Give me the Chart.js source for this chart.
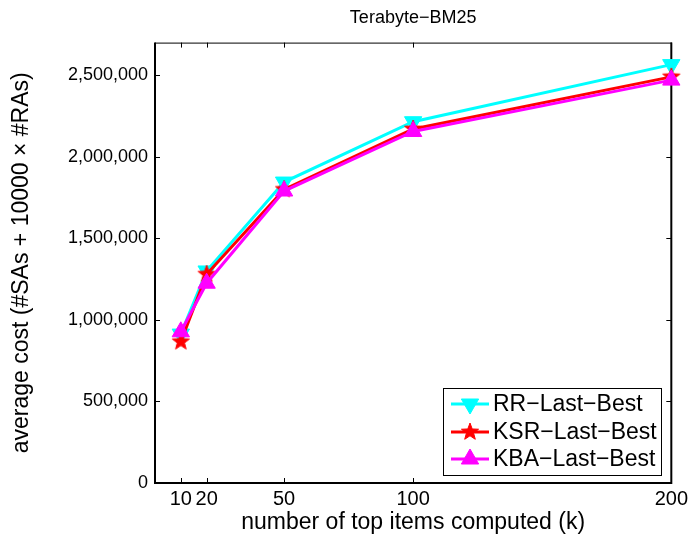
<!DOCTYPE html>
<html>
<head>
<meta charset="utf-8">
<script src="https://cdn.jsdelivr.net/npm/chart.js@4.4.1/dist/chart.umd.min.js"></script>
<style>
  html, body { margin: 0; padding: 0; background: #ffffff; }
  #wrap { width: 692px; height: 539px; }
</style>
</head>
<body>
<div id="wrap"><canvas id="c" width="692" height="539"></canvas></div>
<script>
// number of top items computed (k)
const kValues = [10, 20, 50, 100, 200];
// average cost per method
const rrLastBest  = [913000, 1300000, 1845000, 2215000, 2565000];
const ksrLastBest = [866000, 1280000, 1800000, 2170000, 2490000];
const kbaLastBest = [927000, 1225000, 1790000, 2155000, 2470000];
// tick values
const xTickValues = [10, 20, 50, 100, 200];
const yTickValues = [0, 500000, 1000000, 1500000, 2000000, 2500000];
const seriesNames = ['RR\u2212Last\u2212Best', 'KSR\u2212Last\u2212Best', 'KBA\u2212Last\u2212Best'];

const FONT = 'Liberation Sans, Arial, Helvetica, sans-serif';

// filled five-point star marker
function makeStar(color, outer) {
  const size = Math.ceil(outer * 2 + 2);
  const cv = document.createElement('canvas');
  cv.width = size; cv.height = size;
  const g = cv.getContext('2d');
  const cx = size / 2, cy = size / 2, inner = outer * 0.42;
  g.beginPath();
  for (let i = 0; i < 10; i++) {
    const r = i % 2 === 0 ? outer : inner;
    const a = -Math.PI / 2 + i * Math.PI / 5;
    const px = cx + r * Math.cos(a), py = cy + r * Math.sin(a);
    if (i === 0) g.moveTo(px, py); else g.lineTo(px, py);
  }
  g.closePath();
  g.fillStyle = color; g.fill();
  g.strokeStyle = color; g.lineWidth = 1; g.stroke();
  return cv;
}
const starRed = makeStar('#ff0000', 9);

function toPoints(values) {
  return kValues.map((k, i) => ({ x: k, y: values[i] }));
}

const seriesStyles = [
  { color: '#00ffff', pointStyle: 'triangle', rotation: 180, radius: 10 },
  { color: '#ff0000', pointStyle: starRed, rotation: 0, radius: 9 },
  { color: '#ff00ff', pointStyle: 'triangle', rotation: 0, radius: 10 }
];
const seriesValues = [rrLastBest, ksrLastBest, kbaLastBest];
const drawOrder = [2, 1, 0];

const datasets = seriesValues.map((vals, i) => ({
  label: seriesNames[i],
  data: toPoints(vals),
  borderColor: seriesStyles[i].color,
  backgroundColor: seriesStyles[i].color,
  borderWidth: 3,
  pointStyle: seriesStyles[i].pointStyle,
  pointRotation: seriesStyles[i].rotation,
  pointRadius: seriesStyles[i].radius,
  pointHoverRadius: seriesStyles[i].radius,
  pointBorderWidth: 1,
  pointBackgroundColor: seriesStyles[i].color,
  pointBorderColor: seriesStyles[i].color,
  tension: 0,
  fill: false,
  clip: false,
  order: drawOrder[i]
}));

// axes box with inward tick marks
const boxPlugin = {
  id: 'boxTicks',
  beforeDatasetsDraw(chart) {
    const { ctx, chartArea: a, scales } = chart;
    ctx.save();
    ctx.strokeStyle = '#000000';
    ctx.lineCap = 'butt';
    const tl = 5;
    ctx.lineWidth = 1;
    ctx.beginPath();
    xTickValues.forEach(v => {
      const px = Math.round(scales.x.getPixelForValue(v)) + 0.5;
      ctx.moveTo(px, a.bottom); ctx.lineTo(px, a.bottom - tl);
      ctx.moveTo(px, a.top); ctx.lineTo(px, a.top + tl);
    });
    yTickValues.forEach(v => {
      const py = Math.round(scales.y.getPixelForValue(v)) + 0.5;
      ctx.moveTo(a.left, py); ctx.lineTo(a.left + tl, py);
      ctx.moveTo(a.right, py); ctx.lineTo(a.right - tl, py);
    });
    ctx.stroke();
    ctx.lineWidth = 1;
    ctx.beginPath();
    ctx.moveTo(a.left, a.top + 0.5); ctx.lineTo(a.right, a.top + 0.5);
    ctx.stroke();
    ctx.lineWidth = 2;
    ctx.beginPath();
    ctx.moveTo(a.left, a.top); ctx.lineTo(a.left, a.bottom);
    ctx.lineTo(a.right, a.bottom); ctx.lineTo(a.right, a.top);
    ctx.stroke();
    ctx.restore();
  }
};

// boxed legend in the lower right corner
const legendPlugin = {
  id: 'boxLegend',
  afterDraw(chart) {
    const { ctx } = chart;
    const bx = 443, by = 388, bw = 218, bh = 87;
    const rowY = [404, 432, 459];
    ctx.save();
    ctx.fillStyle = '#ffffff';
    ctx.fillRect(bx, by, bw, bh);
    ctx.strokeStyle = '#000000';
    ctx.lineWidth = 1;
    ctx.strokeRect(bx + 0.5, by + 0.5, bw, bh);
    chart.data.datasets.forEach((ds, i) => {
      const y = rowY[i];
      ctx.strokeStyle = ds.borderColor;
      ctx.lineWidth = 3;
      ctx.beginPath();
      ctx.moveTo(451, y); ctx.lineTo(489, y);
      ctx.stroke();
      ctx.fillStyle = ds.pointBackgroundColor;
      ctx.strokeStyle = ds.pointBorderColor;
      ctx.lineWidth = 1;
      Chart.helpers.drawPoint(ctx, {
        pointStyle: ds.pointStyle,
        rotation: ds.pointRotation,
        radius: ds.pointRadius,
        borderWidth: 1
      }, 470, y);
      ctx.fillStyle = '#000000';
      ctx.font = '23px ' + FONT;
      ctx.textAlign = 'left';
      ctx.textBaseline = 'middle';
      ctx.fillText(ds.label, 493, y + 1);
    });
    ctx.restore();
  }
};

new Chart(document.getElementById('c'), {
  type: 'line',
  data: { datasets },
  plugins: [boxPlugin, legendPlugin],
  options: {
    responsive: false,
    animation: false,
    devicePixelRatio: 1,
    events: [],
    layout: { padding: { left: 0, right: 20, top: 0, bottom: 0 } },
    plugins: {
      legend: { display: false },
      tooltip: { enabled: false },
      title: {
        display: true,
        fullSize: false,
        text: 'Terabyte\u2212BM25',
        color: '#000000',
        font: { family: FONT, size: 18, weight: 'normal' },
        padding: { top: 7, bottom: 14 }
      }
    },
    scales: {
      x: {
        type: 'linear',
        min: 0,
        max: 200,
        afterBuildTicks: s => { s.ticks = xTickValues.map(v => ({ value: v })); },
        afterFit: s => { s.height = 56; },
        grid: { display: false, drawTicks: false },
        border: { display: false },
        ticks: {
          color: '#000000',
          font: { family: FONT, size: 20 },
          padding: 4,
          maxRotation: 0,
          autoSkip: false,
          callback: v => String(v)
        },
        title: {
          display: true,
          text: 'number of top items computed (k)',
          color: '#000000',
          font: { family: FONT, size: 23 },
          padding: { top: 0, bottom: 3 }
        }
      },
      y: {
        type: 'linear',
        min: 0,
        max: 2700000,
        afterBuildTicks: s => { s.ticks = yTickValues.map(v => ({ value: v })); },
        afterFit: s => { s.width = 155; },
        grid: { display: false, drawTicks: false },
        border: { display: false },
        ticks: {
          color: '#000000',
          font: { family: FONT, size: 18 },
          padding: 7,
          autoSkip: false,
          callback: v => Number(v).toLocaleString('en-US')
        },
        title: {
          display: true,
          text: 'average cost (#SAs + 10000 \u00d7 #RAs)',
          color: '#000000',
          font: { family: FONT, size: 23 },
          padding: { top: 8, bottom: 0 }
        }
      }
    }
  }
});
</script>
</body>
</html>
